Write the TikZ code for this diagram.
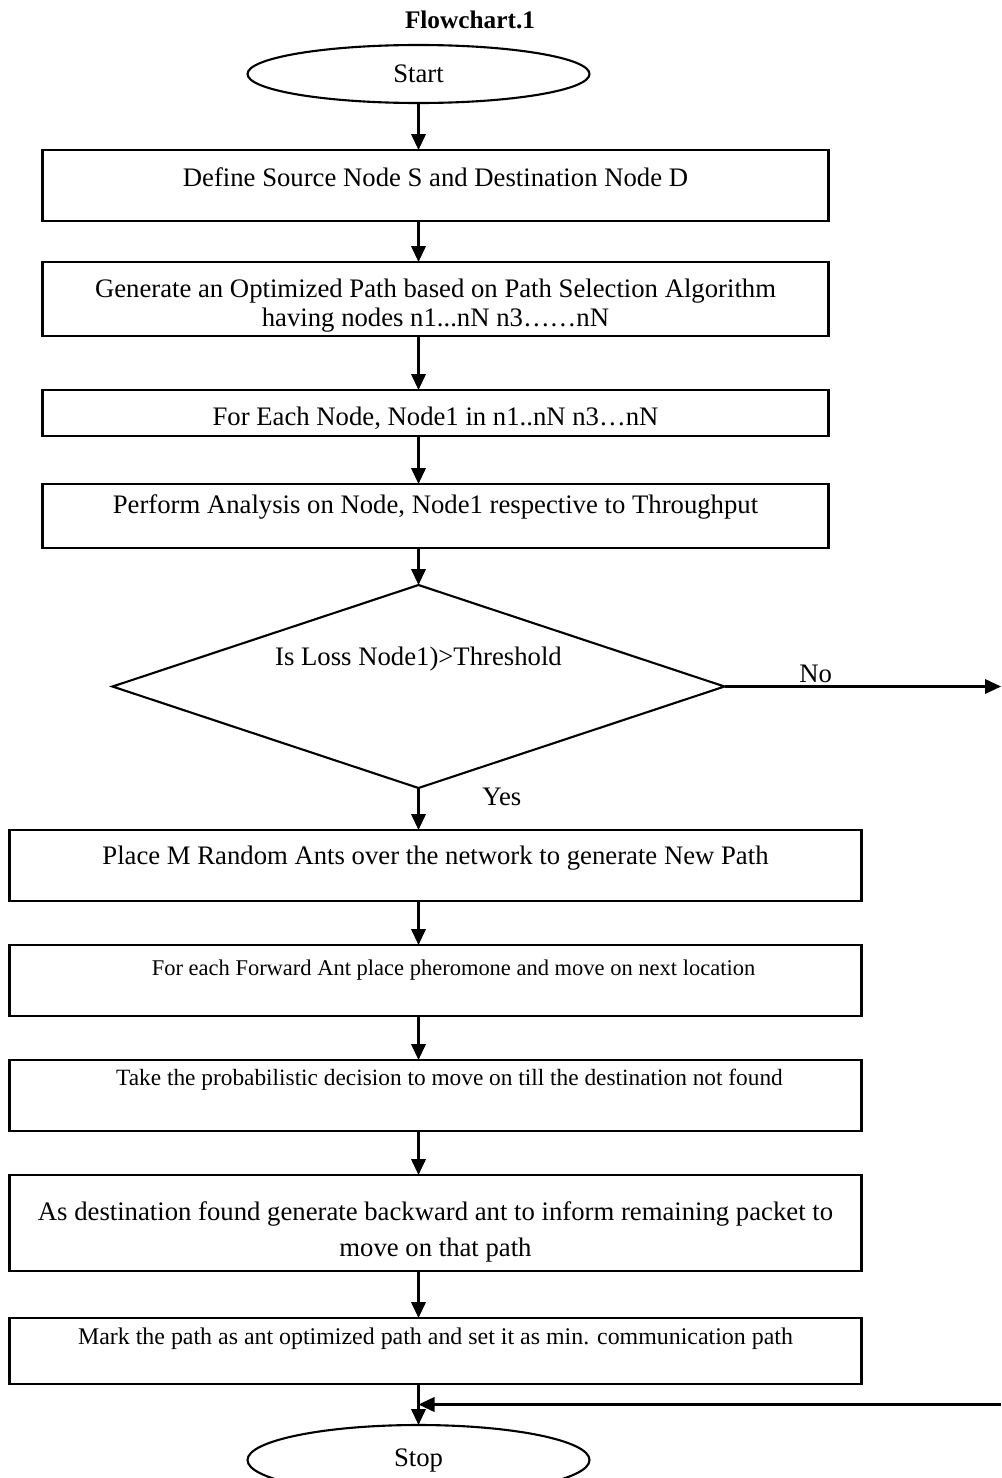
\documentclass[tikz,border=0pt]{standalone}
\usepackage{fontspec}
\setmainfont{Liberation Serif}
\usetikzlibrary{positioning,arrows.meta,shapes.geometric,calc}
\tikzset{
    procbox/.style={
        draw=black, line width=1.5pt, inner sep=0pt, outer sep=0pt,
        minimum width=19.65cm
    },
    widebox/.style={
        procbox, minimum width=21.3cm
    },
    boxtext/.style={
        anchor=north, inner sep=0pt, yshift=-0.425cm,
        font=\fontsize{19}{26}\selectfont, align=center
    },
    smalltext/.style={
        boxtext, yshift=0.05cm, font=\fontsize{16}{22}\selectfont
    },
    terminal/.style={
        draw=black, ellipse, line width=1.5pt, outer sep=0pt,
        minimum width=8.55cm, minimum height=1.45cm,
        font=\fontsize{19}{26}\selectfont
    },
    decision/.style={
        draw=black, diamond, line width=1.5pt, inner sep=0pt, outer sep=0pt,
        minimum width=15.3cm, minimum height=5.075cm
    },
    arrow/.style={-{Triangle[length=4mm, width=3.6mm]}, line width=1.8pt},
}

\begin{document}
\begin{tikzpicture}[
        every node/.style={font=\fontsize{19}{26}\selectfont},
    ]
        \useasboundingbox (0,0) rectangle (25.025,-36.95);
        \coordinate (rightedge) at (25.025,0);
        \node[font=\bfseries\fontsize{18}{24}\selectfont] (title) at (11.75,-0.5) {Flowchart.1};
        \node[terminal] (start) at (10.4625,-1.85) {Start};
        \node[procbox, minimum height=1.775cm, below=1.175cm of start, xshift=0.425cm,
            label={[boxtext]north:Define Source Node S and Destination Node D}] (define) {};
        \node[procbox, minimum height=1.85cm, below=1.025cm of define,
            label={[boxtext, font=\fontsize{19}{20.6}\selectfont]north:Generate an Optimized Path based on Path Selection Algorithm\\having nodes n1...nN n3……nN}] (genpath) {};
        \node[procbox, minimum height=1.15cm, below=1.35cm of genpath,
            label={[boxtext]north:{For Each Node, Node1 in n1..nN n3…nN}}] (foreach) {};
        \node[procbox, minimum height=1.6cm, below=1.2cm of foreach,
            label={[boxtext, yshift=0.175cm]north:{Perform Analysis on Node, Node1 respective to Throughput}}] (analyse) {};
        \node[decision, below=0.925cm of analyse, xshift=-0.425cm,
            label={[yshift=0.675cm]center:Is Loss Node1)>Threshold}] (loss) {};
        \node[widebox, minimum height=1.775cm, below=1.05cm of loss, xshift=0.425cm,
            label={[boxtext, yshift=0.025cm]north:Place M Random Ants over the network to generate New Path}] (ants) {};
        \node[widebox, minimum height=1.775cm, below=1.1cm of ants,
            label={[smalltext, xshift=0.45cm]north:For each Forward Ant place pheromone and move on next location}] (forward) {};
        \node[widebox, minimum height=1.775cm, below=1.1cm of forward,
            label={[smalltext, xshift=0.35cm, yshift=0.15cm, font=\fontsize{16.6}{22}\selectfont]north:Take the probabilistic decision to move on till the destination not found}] (decide) {};
        \node[widebox, minimum height=2.4cm, below=1.1cm of decide,
            label={[boxtext, yshift=-0.225cm]north:As destination found generate backward ant to inform remaining packet to\\move on that path}] (backward) {};
        \node[widebox, minimum height=1.65cm, below=1.175cm of backward,
            label={[smalltext, yshift=0.125cm, font=\fontsize{17}{22}\selectfont]north:Mark the path as ant optimized path and set it as min. communication path}] (mark) {};
        \node[terminal, below=1.025cm of mark, xshift=-0.425cm, minimum height=1.75cm] (stop) {Stop};
        \path (mark.south) -- (stop.north) coordinate[midway] (backmid);
        \draw[arrow] (start) -- (start |- define.north);
        \draw[arrow] (start |- define.south) -- (start |- genpath.north);
        \draw[arrow] (start |- genpath.south) -- (start |- foreach.north);
        \draw[arrow] (start |- foreach.south) -- (start |- analyse.north);
        \draw[arrow] (start |- analyse.south) -- (loss.north);
        \draw[arrow] (loss.east) -- node[pos=0.33, above, inner sep=2pt] {No} (loss.east -| rightedge);
        \draw[arrow] (loss.south) -- node[pos=0.2, right=1.45cm] {Yes} (start |- ants.north);
        \draw[arrow] (start |- ants.south) -- (start |- forward.north);
        \draw[arrow] (start |- forward.south) -- (start |- decide.north);
        \draw[arrow] (start |- decide.south) -- (start |- backward.north);
        \draw[arrow] (start |- backward.south) -- (start |- mark.north);
        \draw[arrow] (start |- mark.south) -- (stop.north);
        \draw[arrow] (backmid -| rightedge) -- (backmid -| start);
    \end{tikzpicture}
\end{document}
